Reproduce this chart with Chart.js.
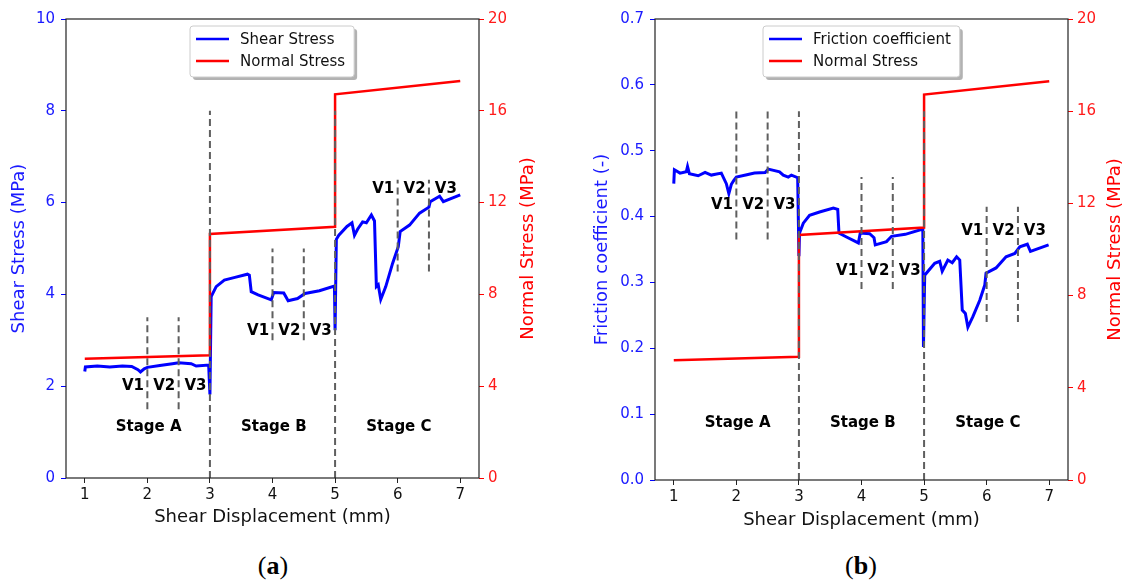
<!DOCTYPE html>
<html lang="en">
<head>
<meta charset="UTF-8">
<title>Shear and friction vs displacement</title>
<script src="https://cdn.jsdelivr.net/npm/chart.js"></script>
<style>
  body { margin: 0; background: #fff; width: 1123px; height: 581px; position: relative; overflow: hidden; }
  .panel { position: absolute; top: 0; }
  .caption { position: absolute; top: 549px; font-family: "Liberation Serif", serif; font-size: 26px; line-height: 34px; color: #000; transform: translateX(-50%); }
</style>
</head>
<body>
<div class="panel" style="left:0"><canvas id="chartA" width="560" height="540"></canvas></div>
<div class="panel" style="left:560px"><canvas id="chartB" width="563" height="540"></canvas></div>
<div class="caption" style="left:273px">(<b>a</b>)</div>
<div class="caption" style="left:861px">(<b>b</b>)</div>

<script>
// ---- data ----
const xTicks = [1, 2, 3, 4, 5, 6, 7];
const shearTicks = [0, 2, 4, 6, 8, 10];
const frictionTicks = [0, 0.1, 0.2, 0.3, 0.4, 0.5, 0.6, 0.7];
const normalTicks = [0, 4, 8, 12, 16, 20];

const shearX = [1.0, 1.01, 1.2, 1.4, 1.6, 1.75, 1.85, 1.89, 1.95, 2.0, 2.2, 2.4, 2.5, 2.7, 2.78, 2.98,
  3.0, 3.02, 3.1, 3.23, 3.4, 3.6, 3.63, 3.66, 3.77, 3.98, 4.02, 4.18, 4.25, 4.4, 4.52, 4.75, 4.99,
  5.0, 5.02, 5.06, 5.19, 5.27, 5.31, 5.36, 5.44, 5.5, 5.58, 5.63, 5.66, 5.69, 5.73, 5.81, 5.92, 6.01,
  6.04, 6.19, 6.35, 6.5, 6.52, 6.67, 6.73, 7.0];
const shearY = [2.32, 2.42, 2.44, 2.42, 2.44, 2.43, 2.36, 2.31, 2.38, 2.41, 2.45, 2.49, 2.51, 2.49, 2.44, 2.46,
  1.82, 3.95, 4.17, 4.31, 4.37, 4.44, 4.42, 4.06, 3.99, 3.88, 4.04, 4.03, 3.86, 3.91, 4.02, 4.08, 4.18,
  3.22, 5.2, 5.29, 5.48, 5.56, 5.29, 5.42, 5.58, 5.56, 5.73, 5.6, 4.17, 4.21, 3.89, 4.17, 4.68, 5.04,
  5.37, 5.51, 5.77, 5.9, 6.02, 6.14, 6.02, 6.17];

const frictionX = [1.0, 1.01, 1.1, 1.2, 1.22, 1.25, 1.39, 1.5, 1.6, 1.76, 1.84, 1.88, 1.92, 1.96, 2.0,
  2.15, 2.29, 2.46, 2.51, 2.69, 2.75, 2.83, 2.88, 2.98,
  3.0, 3.01, 3.07, 3.17, 3.33, 3.55, 3.62, 3.64, 3.76, 3.95, 3.98, 4.13, 4.2, 4.22, 4.4, 4.48, 4.7, 4.98,
  4.99, 5.01, 5.17, 5.25, 5.29, 5.38, 5.45, 5.52, 5.57, 5.61, 5.66, 5.7, 5.78, 5.89, 5.97, 5.99,
  6.15, 6.31, 6.45, 6.53, 6.65, 6.7, 6.99];
const frictionY = [0.450, 0.471, 0.466, 0.468, 0.476, 0.465, 0.462, 0.467, 0.463, 0.466, 0.450, 0.435, 0.449, 0.455, 0.460,
  0.463, 0.466, 0.467, 0.472, 0.468, 0.463, 0.460, 0.463, 0.459,
  0.34, 0.375, 0.390, 0.402, 0.407, 0.413, 0.411, 0.375, 0.369, 0.360, 0.375, 0.374, 0.368, 0.357, 0.362, 0.370, 0.373, 0.381,
  0.202, 0.311, 0.329, 0.332, 0.317, 0.334, 0.330, 0.339, 0.334, 0.258, 0.253, 0.232, 0.248, 0.273, 0.296, 0.314,
  0.322, 0.339, 0.344, 0.354, 0.358, 0.347, 0.357];

const normalX = [1, 3, 3, 5, 5, 7];
const normalY = [5.2, 5.35, 10.63, 10.95, 16.72, 17.3];

// stage boundaries and velocity-step markers
const dashX = [2, 2.5, 3, 4, 4.5, 5, 6, 6.5];
const dashLowA = [1.5, 1.5, 0, 3, 3, 0, 4.5, 4.5];
const dashHighA = [3.5, 3.5, 8, 5, 5, 8, 6.5, 6.5];
const dashLowB = [0.365, 0.365, 0, 0.29, 0.29, 0, 0.24, 0.24];
const dashHighB = [0.565, 0.565, 0.56, 0.46, 0.46, 0.56, 0.415, 0.415];

const vNames = ['V1', 'V2', 'V3'];
const vLabelX = [1.77, 2.27, 2.77, 3.77, 4.27, 4.77, 5.77, 6.27, 6.77];
const vLabelYA = [2.0, 2.0, 2.0, 3.2, 3.2, 3.2, 6.3, 6.3, 6.3];
const vLabelYB = [0.418, 0.418, 0.418, 0.317, 0.317, 0.317, 0.378, 0.378, 0.378];
const stageNames = ['Stage A', 'Stage B', 'Stage C'];
const stageX = [2.02, 4.02, 6.02];

const FONT = '"DejaVu Sans", sans-serif';

function pts(xs, ys) {
  return xs.map((x, i) => ({ x: x, y: ys[i] }));
}

function dashSets(lows, highs) {
  return dashX.map((x, i) => ({
    label: 'marker',
    data: [{ x: x, y: lows[i] }, { x: x, y: highs[i] }],
    borderColor: '#5f5f5f',
    borderWidth: 2,
    borderDash: [7, 4],
    pointRadius: 0,
    yAxisID: 'y',
    order: 0
  }));
}

// draws the frame, text annotations, rotated right title and the boxed legend
const panelDeco = {
  id: 'panelDeco',
  afterDatasetsDraw(chart, args, opts) {
    const ctx = chart.ctx;
    const ca = chart.chartArea;
    const xs = chart.scales.x, ys = chart.scales.y;
    ctx.save();

    ctx.strokeStyle = '#222';
    ctx.lineWidth = 1.2;
    ctx.strokeRect(ca.left, ca.top, ca.right - ca.left, ca.bottom - ca.top);

    ctx.fillStyle = '#000';
    ctx.font = 'bold 15px ' + FONT;
    ctx.textAlign = 'center';
    ctx.textBaseline = 'middle';
    vLabelX.forEach((v, i) => {
      ctx.fillText(vNames[i % 3], xs.getPixelForValue(v), ys.getPixelForValue(opts.vY[i]));
    });
    stageX.forEach((v, i) => {
      ctx.fillText(stageNames[i], xs.getPixelForValue(v), ys.getPixelForValue(opts.stageY));
    });

    // right axis title reads bottom-to-top like matplotlib
    ctx.save();
    ctx.translate(opts.rightTitleX, (ca.top + ca.bottom) / 2);
    ctx.rotate(-Math.PI / 2);
    ctx.font = '18px ' + FONT;
    ctx.fillStyle = '#ff0000';
    ctx.fillText('Normal Stress (MPa)', 0, 0);
    ctx.restore();

    // legend, upper centre
    const items = [chart.data.datasets[opts.lineIdx], chart.data.datasets[opts.redIdx]];
    ctx.font = '15px ' + FONT;
    const tw = Math.max(...items.map(d => ctx.measureText(d.label).width));
    const w = 6 + 33 + 11 + tw + 9, h = 51;
    const bx = Math.round((ca.left + ca.right) / 2 - w / 2), by = ca.top + 7;
    ctx.fillStyle = 'rgba(0,0,0,0.3)';
    ctx.beginPath(); ctx.roundRect(bx + 3, by + 3, w, h, 3); ctx.fill();
    ctx.fillStyle = '#fff';
    ctx.strokeStyle = '#cccccc';
    ctx.lineWidth = 1;
    ctx.beginPath(); ctx.roundRect(bx, by, w, h, 3); ctx.fill(); ctx.stroke();
    items.forEach((d, k) => {
      const ly = by + 13 + k * 22;
      ctx.strokeStyle = d.borderColor;
      ctx.lineWidth = 2.5;
      ctx.beginPath(); ctx.moveTo(bx + 6, ly); ctx.lineTo(bx + 39, ly); ctx.stroke();
      ctx.fillStyle = '#111';
      ctx.textAlign = 'left';
      ctx.fillText(d.label, bx + 50, ly + 1);
    });
    ctx.restore();
  }
};

function setTicks(values) {
  return function (scale) {
    scale.ticks = values.map(v => ({ value: v }));
  };
}

function makeChart(id, cfg) {
  const ctx = document.getElementById(id).getContext('2d');
  return new Chart(ctx, {
    type: 'line',
    data: {
      datasets: [
        ...dashSets(cfg.dashLow, cfg.dashHigh),
        {
          label: 'Normal Stress',
          data: pts(normalX, normalY),
          borderColor: '#ff0000',
          borderWidth: 2.5,
          pointRadius: 0,
          yAxisID: 'y2',
          order: 1
        },
        {
          label: cfg.label,
          data: pts(cfg.xs, cfg.ys),
          borderColor: '#0000ff',
          borderWidth: 3,
          pointRadius: 0,
          yAxisID: 'y',
          order: 2
        }
      ]
    },
    options: {
      responsive: false,
      devicePixelRatio: 1,
      animation: false,
      events: [],
      layout: { padding: { top: 19, left: 0, right: 0, bottom: 0 } },
      elements: { line: { tension: 0 } },
      plugins: {
        legend: { display: false },
        tooltip: { enabled: false },
        panelDeco: {
          vY: cfg.vY, stageY: cfg.stageY, rightTitleX: cfg.rightTitleX,
          lineIdx: dashX.length + 1, redIdx: dashX.length
        }
      },
      scales: {
        x: {
          type: 'linear', min: 0.7, max: 7.3,
          afterBuildTicks: setTicks(xTicks),
          afterFit: s => { s.height = cfg.xHeight; },
          border: { display: false },
          grid: { drawOnChartArea: false, tickLength: 5, tickColor: '#222', color: '#222' },
          ticks: { color: '#111', font: { family: FONT, size: 15 }, padding: 3, maxRotation: 0 },
          title: { display: true, text: 'Shear Displacement (mm)', color: '#111',
                   font: { family: FONT, size: 18 }, padding: { bottom: cfg.xTitlePad, top: 0 } }
        },
        y: {
          type: 'linear', position: 'left', min: cfg.yMin, max: cfg.yMax,
          afterBuildTicks: setTicks(cfg.yTicks),
          afterFit: s => { s.width = cfg.leftWidth; },
          border: { display: false },
          grid: { drawOnChartArea: false, tickLength: 5, tickColor: '#0000ff', color: '#0000ff' },
          ticks: { color: '#1a1aff', font: { family: FONT, size: 15 }, padding: 6,
                   callback: cfg.yFormat },
          title: { display: true, text: cfg.yTitle, color: '#1a1aff',
                   font: { family: FONT, size: 18 }, padding: { top: cfg.yTitlePad, bottom: 0 } }
        },
        y2: {
          type: 'linear', position: 'right', min: 0, max: 20,
          afterBuildTicks: setTicks(normalTicks),
          afterFit: s => { s.width = cfg.rightWidth; },
          border: { display: false },
          grid: { drawOnChartArea: false, tickLength: 5, tickColor: '#ff0000', color: '#ff0000' },
          ticks: { color: '#ff1a1a', font: { family: FONT, size: 15 }, padding: 4 }
        }
      }
    },
    plugins: [panelDeco]
  });
}

makeChart('chartA', {
  label: 'Shear Stress', xs: shearX, ys: shearY,
  dashLow: dashLowA, dashHigh: dashHighA,
  vY: vLabelYA, stageY: 1.1,
  yMin: 0, yMax: 10, yTicks: shearTicks, yFormat: v => String(v),
  yTitle: 'Shear Stress (MPa)', yTitlePad: 9,
  leftWidth: 66, rightWidth: 81, xHeight: 62, xTitlePad: 12, rightTitleX: 528
});

makeChart('chartB', {
  label: 'Friction coefficient', xs: frictionX, ys: frictionY,
  dashLow: dashLowB, dashHigh: dashHighB,
  vY: vLabelYB, stageY: 0.087,
  yMin: 0, yMax: 0.7, yTicks: frictionTicks, yFormat: v => Number(v).toFixed(1),
  yTitle: 'Friction coefficient (-)', yTitlePad: 32,
  leftWidth: 95, rightWidth: 55, xHeight: 60, xTitlePad: 9, rightTitleX: 555
});
</script>
</body>
</html>
